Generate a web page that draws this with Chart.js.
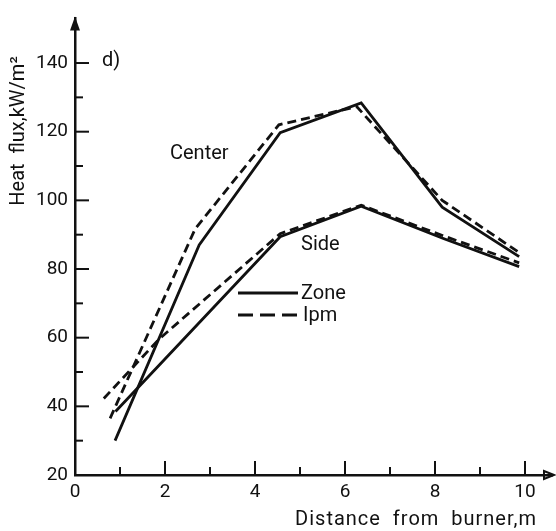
<!DOCTYPE html>
<html>
<head>
<meta charset="utf-8">
<script src="https://cdn.jsdelivr.net/npm/chart.js@4/dist/chart.umd.min.js"></script>
<style>
  html, body { margin: 0; padding: 0; background: #fff; }
  canvas { display: block; }
</style>
</head>
<body>
<canvas id="heat-chart" width="556" height="531"></canvas>
<script>
// values (distance in m, heat flux in kW/m2)
const centerZoneX = [0.89, 2.76, 4.56, 6.36, 8.16, 9.87];
const centerZoneY = [30, 87, 119.7, 128.4, 98, 83.6];
const centerIpmX = [0.78, 2.67, 4.53, 6.26, 8.16, 9.87];
const centerIpmY = [36.5, 91.7, 122, 127.3, 100, 84.8];
const sideZoneX = [0.9, 4.56, 6.36, 8.2, 9.87];
const sideZoneY = [38.5, 89.4, 98.3, 88.8, 80.7];
const sideIpmX = [0.64, 1.87, 4.56, 6.36, 8.2, 9.87];
const sideIpmY = [42.3, 59.6, 90.3, 98.6, 89.6, 81.8];

const xTickLabels = [0, 2, 4, 6, 8, 10];
const xMinorTicks = [1, 3, 5, 7, 9];
const yTickLabels = [20, 40, 60, 80, 100, 120, 140];
const yMinorTicks = [30, 50, 70, 90, 110, 130];

const INK = '#111';
const FONT = 'Roboto, "Liberation Sans", sans-serif';

function points(xs, ys) {
  return xs.map((x, i) => ({ x: x, y: ys[i] }));
}

function lineSet(label, xs, ys, dashed) {
  return {
    label: label,
    data: points(xs, ys),
    showLine: true,
    borderColor: INK,
    borderWidth: 2.8,
    borderDash: dashed ? [9, 5] : [],
    pointRadius: 0,
    tension: 0,
    fill: false,
  };
}

// inward ticks, arrow heads, in-plot labels and the little legend
const decorations = {
  id: 'decorations',
  afterDraw(chart) {
    const ctx = chart.ctx;
    const area = chart.chartArea;
    const xs = chart.scales.x;
    const ys = chart.scales.y;
    ctx.save();
    ctx.strokeStyle = INK;
    ctx.fillStyle = INK;
    ctx.lineWidth = 2;

    yTickLabels.forEach((v) => {
      const py = ys.getPixelForValue(v);
      ctx.beginPath(); ctx.moveTo(area.left, py); ctx.lineTo(area.left + 14, py); ctx.stroke();
    });
    yMinorTicks.forEach((v) => {
      const py = ys.getPixelForValue(v);
      ctx.beginPath(); ctx.moveTo(area.left, py); ctx.lineTo(area.left + 8, py); ctx.stroke();
    });
    xTickLabels.slice(1).forEach((v) => {
      const px = xs.getPixelForValue(v);
      ctx.beginPath(); ctx.moveTo(px, area.bottom); ctx.lineTo(px, area.bottom - 14); ctx.stroke();
    });
    xMinorTicks.forEach((v) => {
      const px = xs.getPixelForValue(v);
      ctx.beginPath(); ctx.moveTo(px, area.bottom); ctx.lineTo(px, area.bottom - 8); ctx.stroke();
    });

    // arrow heads
    ctx.beginPath();
    ctx.moveTo(area.left, area.top - 2);
    ctx.lineTo(area.left - 5, area.top + 12);
    ctx.lineTo(area.left + 5, area.top + 12);
    ctx.closePath(); ctx.fill();
    ctx.beginPath();
    ctx.moveTo(area.right + 2, area.bottom);
    ctx.lineTo(area.right - 8, area.bottom - 4);
    ctx.lineTo(area.right - 8, area.bottom + 4);
    ctx.closePath(); ctx.stroke();

    ctx.font = '20px ' + FONT;
    ctx.textBaseline = 'middle';
    ctx.textAlign = 'left';
    ctx.fillText('d)', 102, 61);
    ctx.fillText('Center', 170, 154);
    ctx.fillText('Side', 301, 245);

    // legend
    ctx.lineWidth = 3;
    ctx.beginPath(); ctx.moveTo(238, 293); ctx.lineTo(298, 293); ctx.stroke();
    ctx.setLineDash([15, 7]);
    ctx.beginPath(); ctx.moveTo(238, 315); ctx.lineTo(298, 315); ctx.stroke();
    ctx.setLineDash([]);
    ctx.fillText('Zone', 301, 294);
    ctx.fillText('Ipm', 303, 316);

    // axis titles
    ctx.textAlign = 'right';
    ctx.letterSpacing = '1px';
    ctx.fillText('Distance  from  burner,m', 537, 520);
    ctx.letterSpacing = '0px';
    ctx.translate(19, 131);
    ctx.rotate(-Math.PI / 2);
    ctx.textAlign = 'center';
    ctx.fillText('Heat  flux,kW/m\u00B2', 0, 0);
    ctx.restore();
  },
};

new Chart(document.getElementById('heat-chart'), {
  type: 'scatter',
  data: {
    datasets: [
      lineSet('Center Zone', centerZoneX, centerZoneY, false),
      lineSet('Center Ipm', centerIpmX, centerIpmY, true),
      lineSet('Side Zone', sideZoneX, sideZoneY, false),
      lineSet('Side Ipm', sideIpmX, sideIpmY, true),
    ],
  },
  options: {
    responsive: false,
    animation: false,
    devicePixelRatio: 1,
    layout: { padding: { top: 13, right: 4, left: 0, bottom: 0 } },
    plugins: { legend: { display: false }, tooltip: { enabled: false } },
    scales: {
      x: {
        type: 'linear',
        min: 0,
        max: 10.6,
        afterFit: (s) => { s.height = 56; },
        afterBuildTicks: (s) => { s.ticks = xTickLabels.map((v) => ({ value: v })); },
        grid: { display: false, drawTicks: false },
        border: { display: true, color: INK, width: 2.5 },
        ticks: { color: INK, padding: 6, font: { family: FONT, size: 19 }, maxRotation: 0 },
      },
      y: {
        type: 'linear',
        min: 20,
        max: 153,
        afterFit: (s) => { s.width = 75; },
        afterBuildTicks: (s) => { s.ticks = yTickLabels.map((v) => ({ value: v })); },
        grid: { display: false, drawTicks: false },
        border: { display: true, color: INK, width: 2.5 },
        ticks: { color: INK, padding: 7, font: { family: FONT, size: 19 } },
      },
    },
  },
  plugins: [decorations],
});
</script>
</body>
</html>
